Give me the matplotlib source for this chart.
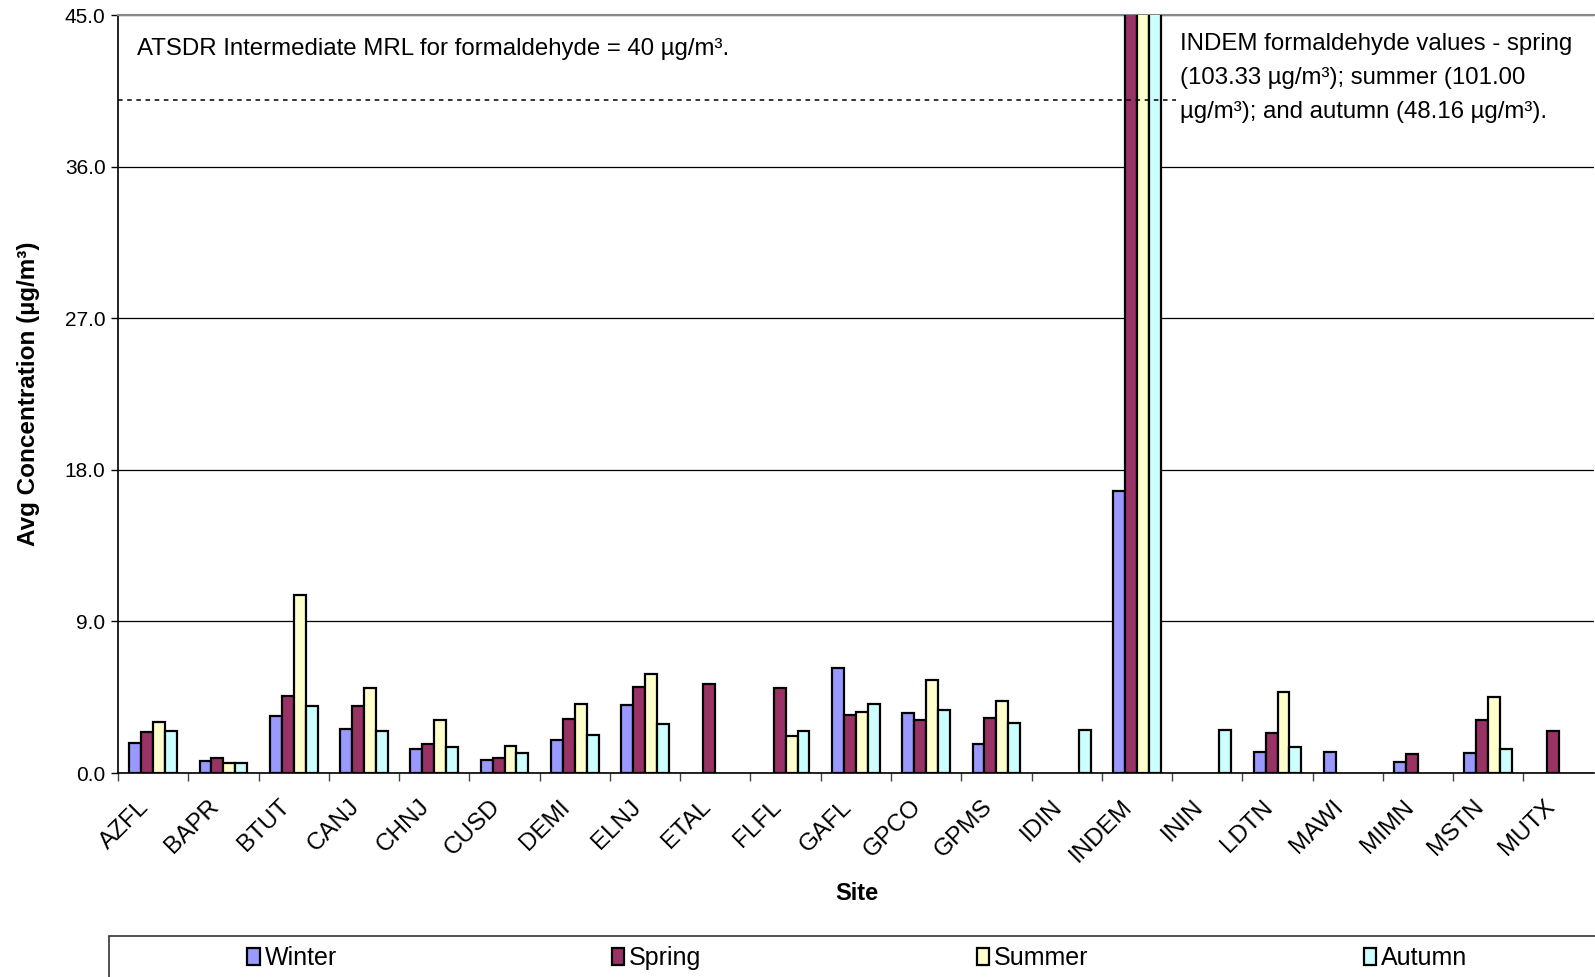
"""
Seasonal average formaldehyde concentrations by monitoring site.
"""
import numpy as np
import matplotlib
matplotlib.use("Agg")
import matplotlib.pyplot as plt
from matplotlib.patches import Rectangle

plt.rcParams["font.family"] = ["Liberation Sans", "DejaVu Sans"]

nan = np.nan

SITES = ["AZFL", "BAPR", "BTUT", "CANJ", "CHNJ", "CUSD", "DEMI", "ELNJ", "ETAL",
         "FLFL", "GAFL", "GPCO", "GPMS", "IDIN", "INDEM", "ININ", "LDTN", "MAWI",
         "MIMN", "MSTN", "MUTX"]

WINTER = [1.76, 0.69, 3.41, 2.62, 1.41, 0.75, 1.94, 4.03, nan, nan, 6.26,
          3.58, 1.75, nan, 16.73, nan, 1.23, 1.23, 0.67, 1.19, nan]
SPRING = [2.46, 0.87, 4.57, 3.97, 1.75, 0.87, 3.22, 5.10, 5.28, 5.04, 3.46,
          3.12, 3.24, nan, 103.33, nan, 2.36, nan, 1.11, 3.14, 2.48]
SUMMER = [3.04, 0.60, 10.58, 5.04, 3.12, 1.59, 4.07, 5.90, nan, 2.18, 3.65,
          5.52, 4.25, nan, 101.00, nan, 4.80, nan, nan, 4.53, nan]
AUTUMN = [2.52, 0.60, 3.97, 2.52, 1.55, 1.17, 2.24, 2.94, nan, 2.52, 4.07,
          3.77, 2.98, 2.56, 48.16, 2.54, 1.55, nan, nan, 1.45, nan]

SEASONS = ["Winter", "Spring", "Summer", "Autumn"]
COLORS = ["#9999FF", "#993366", "#FFFFCC", "#CCFFFF"]

MRL = 40.0
Y_TICKS = [0, 9, 18, 27, 36, 45]


def render(path="out.png"):
    fig = plt.figure(figsize=(15.95, 9.77), dpi=100)
    ax = fig.add_axes([0.0740, 0.2088, 0.9252, 0.7755])

    x = np.arange(len(SITES))
    width = 0.17
    series = [WINTER, SPRING, SUMMER, AUTUMN]
    handles = []
    for k, (vals, name, col) in enumerate(zip(series, SEASONS, COLORS)):
        h = ax.bar(x + (k - 1.5) * width, vals, width, color=col,
                   edgecolor="black", linewidth=1.6, label=name, zorder=3)
        handles.append(h)

    ax.set_xlim(-0.5, len(SITES) - 0.5)
    ax.set_ylim(0, 45)
    ax.set_yticks(Y_TICKS)
    ax.set_yticklabels([f"{v:.1f}" for v in Y_TICKS], fontsize=15)
    ax.yaxis.grid(True, color="black", linewidth=0.9, zorder=0)
    ax.tick_params(axis="y", direction="out", length=5, width=1, pad=4)

    # category labels (hidden ticks, nudged left), tick marks between categories
    ax.set_xticks(x - 0.11)
    ax.set_xticklabels(SITES, rotation=45, ha="right", va="center",
                       rotation_mode="anchor", fontsize=17.5)
    ax.tick_params(axis="x", which="major", length=0, pad=22)
    ax.set_xticks(np.arange(-0.5, len(SITES) - 0.5, 1.0), minor=True)
    ax.tick_params(axis="x", which="minor", direction="out", length=6,
                   width=1, color="#444444")

    ax.spines["right"].set_visible(False)
    ax.spines["top"].set_color("#888888")
    ax.spines["top"].set_linewidth(1.5)
    ax.spines["left"].set_linewidth(1.2)
    ax.spines["bottom"].set_linewidth(1.2)

    # MRL reference line
    ax.plot([-0.5, 14.55], [MRL, MRL], color="black", linestyle=(0, (3, 3)),
            linewidth=1.1, zorder=4)

    ax.text(0.0127, 0.955, "ATSDR Intermediate MRL for formaldehyde = 40 µg/m³.",
            transform=ax.transAxes, fontsize=17.3, va="center", ha="left")
    note = ["INDEM formaldehyde values - spring",
            "(103.33 µg/m³); summer (101.00",
            "µg/m³); and autumn (48.16 µg/m³)."]
    for i, line in enumerate(note):
        fig.text(1180 / 1595, 1 - (44 + i * 34) / 977, line, fontsize=17.3,
                 va="center", ha="left")

    ax.set_ylabel("Avg Concentration (µg/m³)", fontsize=17.5, weight="bold")
    ax.yaxis.set_label_coords(-0.053, 0.5)
    fig.text(857 / 1595, 1 - 893 / 977, "Site", fontsize=17, weight="bold",
             ha="center", va="center")

    # legend box along the bottom edge
    fig.patches.append(Rectangle((109 / 1595, -0.01), 1.0, 0.01 + 41 / 977,
                                 transform=fig.transFigure, fill=False,
                                 edgecolor="#333333", linewidth=1.2))
    fig.legend(handles, SEASONS, loc="center left", frameon=False, ncol=4,
               bbox_to_anchor=(247 / 1595, 1 - 958 / 977), fontsize=18,
               handlelength=0.5, handleheight=0.65, handletextpad=0.2,
               columnspacing=11.0, borderpad=0, borderaxespad=0)

    fig.savefig(path, dpi=100, facecolor="white")
    plt.close(fig)
    return path


if __name__ == "__main__":
    render()
